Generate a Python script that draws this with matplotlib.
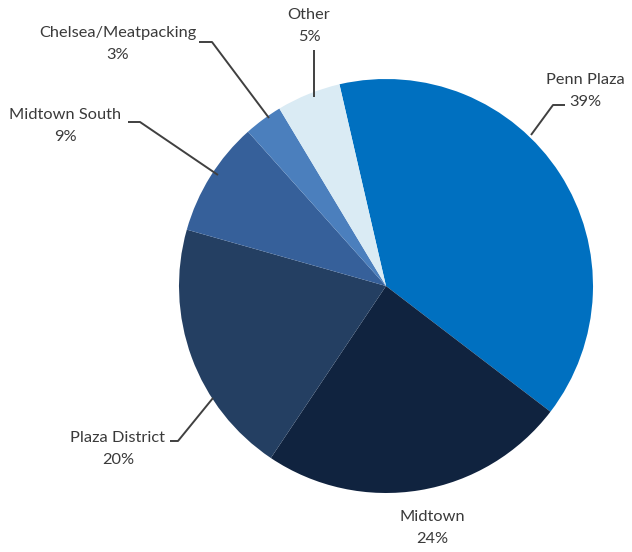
import matplotlib
matplotlib.use("Agg")
import matplotlib.pyplot as plt

categories = ["Penn Plaza", "Midtown", "Plaza District", "Midtown South", "Chelsea/Meatpacking", "Other"]
values = [39, 24, 20, 9, 3, 5]
colors = ["#0070C0", "#10233F", "#243F62", "#36609A", "#4B7FBD", "#DAEBF4"]

W, H = 632, 552
fig = plt.figure(figsize=(W / 100, H / 100), dpi=100)
ax = fig.add_axes([0, 0, 1, 1])

def Y(py):
    return H - py

cx, cy, r = 386, 286, 207
ax.pie(values, colors=colors, startangle=103, counterclock=False,
       center=(cx, Y(cy)), radius=r, wedgeprops=dict(linewidth=0),
       frame=False)
ax.set_xlim(0, W)
ax.set_ylim(0, H)
ax.set_aspect("equal")
ax.axis("off")

# label positions (pixel), leader polylines (pixel)
label_pos = {
    "Penn Plaza": (585, 91),
    "Midtown": (432, 528),
    "Plaza District": (118, 449),
    "Midtown South": (65, 126),
    "Chelsea/Meatpacking": (118, 44),
    "Other": (309, 26),
}
leaders = {
    "Penn Plaza": [(565, 105), (553, 105), (531, 135)],
    "Plaza District": [(170, 441), (178, 441), (213, 398)],
    "Midtown South": [(128, 122), (140, 122), (218, 175)],
    "Chelsea/Meatpacking": [(199, 42), (212, 42), (269, 118)],
    "Other": [(314, 50), (314, 97)],
}

tc = "#3a3a3a"
for cat, val in zip(categories, values):
    x, y = label_pos[cat]
    ax.text(x, Y(y), f"{cat}\n{val}%", ha="center", va="center",
            fontsize=11.8, family="Lato", color=tc, linespacing=1.7)
    if cat in leaders:
        pts = leaders[cat]
        ax.plot([p[0] for p in pts], [Y(p[1]) for p in pts],
                color="#404040", lw=1.4, solid_capstyle="butt")

fig.savefig("out.png", dpi=100, facecolor="white")
